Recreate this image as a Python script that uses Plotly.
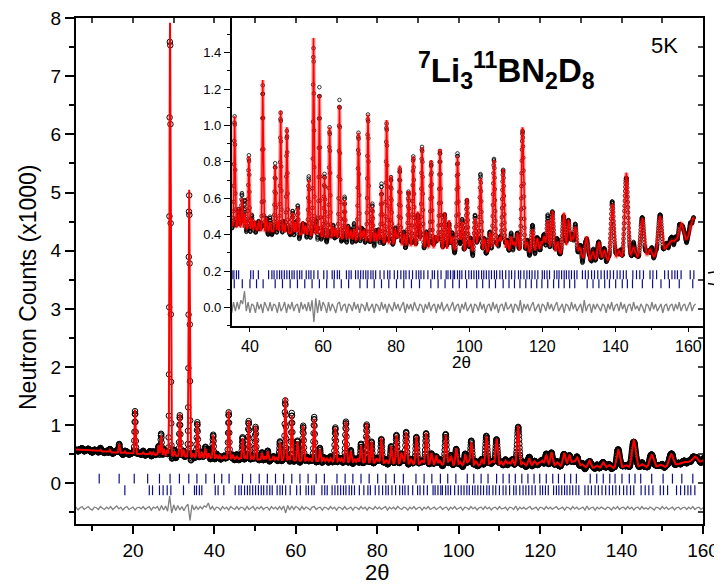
import numpy as np
import plotly.graph_objects as go

FONT = "Liberation Sans, Arial, sans-serif"

# ---------------- data (counts in units of 1000) ----------------
# background level
bg_x = [6, 10, 15, 20, 25, 30, 35, 40, 50, 60, 70, 80, 90, 100, 110, 120, 125,
        130, 135, 140, 145, 150, 155, 158, 160, 162]
bg_y = [0.58, 0.56, 0.53, 0.51, 0.49, 0.47, 0.45, 0.43, 0.41, 0.39, 0.37, 0.35,
        0.33, 0.31, 0.30, 0.30, 0.29, 0.27, 0.25, 0.26, 0.27, 0.27, 0.29, 0.33,
        0.38, 0.42]

# instrumental peak width (FWHM, degrees) vs 2theta
res_x = [10, 40, 60, 80, 100, 120, 140, 160]
res_fwhm = [0.30, 0.32, 0.35, 0.40, 0.50, 0.68, 0.95, 1.45]

# main Bragg peaks: position and top value
peak_pos = [16.6, 20.5, 26.3, 26.9, 29.1, 31.5, 33.8, 35.8, 37.8, 39.7, 43.5,
            46.9, 48.4, 50.1, 51.7, 53.1, 56.1, 57.4, 59.0, 60.4, 61.8, 64.5,
            65.9, 69.7, 72.3, 73.5, 76.0, 77.4, 78.6, 81.0, 83.4, 84.7, 85.9,
            87.1, 89.6, 92.0, 93.3, 94.5, 96.8, 98.1, 99.4, 101.6, 103.1, 105.7,
            106.8, 109.3, 113.2, 114.6, 117.3, 121.5, 122.8, 125.9, 127.2, 129.1,
            132.1, 135.5, 139.2, 143.0, 147.4, 152.2, 155.2, 158.0, 161.2]
peak_top = [0.68, 1.27, 0.65, 0.82, 7.92, 1.20, 5.05, 1.05, 0.60, 0.83, 1.25,
            0.78, 1.08, 0.99, 0.52, 0.55, 0.70, 1.48, 1.17, 0.72, 0.99, 1.11,
            0.59, 0.96, 1.06, 0.55, 0.65, 1.03, 0.72, 0.78, 0.64, 0.83, 0.52,
            0.88, 0.81, 0.87, 0.52, 0.48, 0.83, 0.47, 0.60, 0.49, 0.71, 0.41,
            0.81, 0.76, 0.41, 0.99, 0.43, 0.48, 0.53, 0.52, 0.48, 0.44,
            0.39, 0.36, 0.57, 0.74, 0.49, 0.50, 0.36, 0.46, 0.49]

# weak reflections (height above background)
minor_pos = [12.0, 14.3, 18.0, 22.5, 24.2, 25.0, 27.6, 28.4, 30.2, 32.4, 34.8,
             36.9, 38.6, 40.5, 41.3, 42.4, 44.5, 45.5, 47.6, 49.2, 52.4, 54.5,
             55.2, 58.2, 62.8, 63.5, 66.8, 67.6, 68.5, 70.6, 71.2, 74.4, 75.2,
             79.8, 80.3, 82.2, 86.3, 88.3, 90.8, 91.2, 95.3, 97.5, 100.3, 102.4,
             104.2, 107.8, 108.4, 110.4, 111.5, 112.3, 115.8, 118.6, 119.7,
             120.5, 124.2, 128.2, 130.3, 133.9, 137.0, 141.0, 145.0, 149.5,
             154.0, 156.5]
minor_amp = [0.03, 0.04, 0.03, 0.03, 0.05, 0.04, 0.12, 0.10, 0.08, 0.12, 0.06,
             0.10, 0.08, 0.06, 0.05, 0.05, 0.07, 0.05, 0.06, 0.05, 0.06, 0.07,
             0.05, 0.06, 0.06, 0.05, 0.07, 0.05, 0.06, 0.05, 0.06, 0.05, 0.07,
             0.08, 0.05, 0.06, 0.07, 0.08, 0.06, 0.05, 0.07, 0.06, 0.06, 0.08,
             0.07, 0.06, 0.08, 0.07, 0.09, 0.06, 0.06, 0.08, 0.06,
             0.09, 0.07, 0.10, 0.06, 0.05, 0.06, 0.05, 0.06, 0.05,
             0.04, 0.05]

# reflection markers of the two phases
phase1_ticks = [11.7, 16.6, 20.3, 23.6, 26.5, 29.1, 31.4, 33.7, 35.7, 37.9, 40.0,
                41.8, 43.6, 46.9, 48.9, 51.0, 53.0, 55.0, 57.0, 59.0, 61.0, 63.0,
                65.0, 67.0, 70.1, 72.1, 74.0, 76.0, 78.0, 80.1, 82.1, 84.2, 86.4,
                89.5, 91.5, 93.4, 95.5, 97.3, 99.3, 102.1, 103.7, 105.5, 107.2,
                109.3, 110.9, 112.4, 113.9, 115.5, 117.0, 118.5, 119.9, 121.5,
                123.1, 124.5, 126.0, 127.5, 128.9, 132.3, 133.9, 135.5, 137.1,
                138.4, 140.1, 141.9, 143.3, 144.7, 147.4, 150.2, 152.5, 154.8,
                157.5, 161.2]
phase2_ticks = [18.0, 24.0, 24.8, 26.5, 27.4, 28.4, 29.3, 32.4, 35.1, 35.6, 36.3,
                36.9, 40.2, 40.9, 42.3, 45.1, 46.0, 46.6, 47.4, 48.1, 48.7, 49.4,
                50.1, 50.8, 51.5, 52.1, 52.9, 53.6, 54.2, 55.4, 56.1, 56.7, 57.5,
                58.6, 60.2, 61.1, 62.5, 63.1, 63.9, 64.5, 66.4, 67.1, 67.7, 68.9,
                69.6, 70.3, 71.0, 71.7, 72.3, 73.1, 73.7, 74.4, 75.6, 76.7, 77.7,
                78.3, 79.5, 80.4, 81.3, 82.1, 82.7, 83.6, 84.5, 85.5, 86.2, 86.8,
                87.6, 88.7, 89.9, 90.5, 91.4, 92.3, 93.7, 94.2, 94.9, 95.6, 96.0,
                96.8, 97.4, 98.0, 99.0, 99.9, 100.6, 101.3, 102.0, 102.6, 103.4,
                104.0, 104.7, 105.4, 106.1, 106.9, 107.5, 108.4, 109.1, 110.0,
                110.9, 111.6, 112.5, 113.5, 114.1, 115.0, 115.8, 116.5, 117.2,
                118.0, 118.8, 120.0, 120.6, 121.3, 122.0, 123.3, 124.0, 124.6,
                125.3, 126.0, 126.6, 127.3, 128.0, 128.8, 129.5, 131.0, 131.8,
                132.6, 133.5, 134.3, 135.2, 136.1, 137.0, 137.8, 138.6, 139.5,
                140.5, 141.3, 142.2, 143.0, 144.8, 145.8, 146.7, 147.7, 149.5,
                150.3, 151.3, 153.5, 154.5, 155.5, 156.3, 157.0, 158.0, 160.5,
                161.5]

# difference curve (obs - calc), every 0.5 degree from 6 to 162
diff_vals = [
    0.02, -0.03, 0.01, 0.03, -0.02, 0.00, 0.03, -0.01, -0.03, 0.02, 0.01, -0.02, 0.03, 0.00, -0.02, 0.02, -0.01, 0.03, -0.02, 0.01,
    0.04, -0.01, 0.02, -0.03, 0.01, 0.03, -0.02, 0.00, 0.02, -0.03, 0.01, 0.02, -0.01, 0.03, -0.02, 0.01, 0.03, -0.03, 0.02, 0.00,
    0.03, -0.04, 0.05, -0.03, 0.04, -0.05, 0.21, -0.08, 0.06, -0.04, 0.05, -0.03, 0.03, -0.04, 0.03, 0.07, -0.21, 0.06, -0.03, 0.03,
    -0.02, 0.03, -0.01, 0.04, 0.02, 0.09, -0.02, 0.03, -0.03, 0.02, 0.01, -0.03, 0.03, -0.01, 0.02, -0.03, 0.03, 0.00, -0.02, 0.03,
    -0.02, 0.02, 0.01, -0.03, 0.03, -0.02, 0.00, 0.03, -0.03, 0.02, -0.01, 0.03, -0.02, 0.01, 0.02, -0.03, 0.03, -0.01, 0.02, -0.02,
    0.03, -0.02, 0.04, -0.08, 0.05, -0.03, 0.04, -0.02, 0.03, 0.01, -0.03, 0.03, -0.02, 0.02, 0.00, -0.03, 0.02, 0.03, -0.02, 0.01,
    0.02, -0.03, 0.02, 0.01, -0.02, 0.03, -0.01, 0.02, -0.03, 0.02, 0.01, -0.02, 0.03, -0.02, 0.00, 0.02, -0.03, 0.02, 0.01, -0.02,
    0.03, -0.01, 0.02, -0.03, 0.02, 0.00, -0.02, 0.03, -0.01, 0.02, -0.02, 0.01, 0.03, -0.03, 0.02, -0.01, 0.02, -0.02, 0.03, 0.00,
    -0.02, 0.02, 0.01, -0.03, 0.02, -0.01, 0.03, -0.02, 0.01, 0.02, -0.03, 0.02, -0.01, 0.03, -0.02, 0.00, 0.02, -0.02, 0.01, 0.03,
    -0.02, 0.01, 0.02, -0.03, 0.02, -0.01, 0.03, -0.02, 0.00, 0.02, -0.03, 0.02, 0.01, -0.02, 0.03, -0.01, 0.02, -0.03, 0.01, 0.02,
    -0.02, 0.03, -0.01, 0.02, -0.03, 0.01, 0.02, -0.02, 0.03, -0.01, 0.00, 0.02, -0.03, 0.02, 0.01, -0.02, 0.04, -0.03, 0.02, -0.01,
    0.02, -0.02, 0.01, 0.03, -0.02, 0.00, 0.02, -0.03, 0.02, 0.01, -0.02, 0.03, -0.01, 0.02, -0.02, 0.01, 0.03, -0.02, 0.00, 0.02,
    -0.03, 0.02, 0.01, -0.02, 0.03, -0.01, 0.02, -0.02, 0.00, 0.02, -0.03, 0.04, -0.02, 0.01, 0.02, -0.03, 0.02, -0.01, 0.02, 0.00,
    -0.02, 0.02, 0.01, -0.03, 0.02, -0.01, 0.03, -0.02, 0.01, 0.02, -0.02, 0.03, -0.01, 0.02, -0.03, 0.01, 0.02, -0.02, 0.03, -0.01,
    0.01, -0.02, 0.02, 0.00, -0.03, 0.02, 0.01, -0.02, 0.03, -0.01, 0.02, -0.02, 0.00, 0.02, -0.03, 0.01, 0.02, -0.02, 0.01, 0.02,
    -0.02, 0.02, -0.01, 0.03, -0.02, 0.01, 0.02, -0.02, 0.01, 0.03, -0.02, 0.01, 0.02]
diff_x = np.linspace(6.0, 162.0, len(diff_vals))

# vertical placement of the reflection rows and difference curves
main_row1, main_row2, main_diff0 = 0.08, -0.12, -0.43
ins_row1, ins_row2, ins_diff0 = 0.18, 0.13, 0.0

# ---------------- profile computed from the peak list ----------------
def profile(x):
    y = np.interp(x, bg_x, bg_y)
    for p, t in zip(peak_pos, peak_top):
        a = t - np.interp(p, bg_x, bg_y)
        s = np.interp(p, res_x, res_fwhm) / 2.3548
        y = y + a * np.exp(-0.5 * ((x - p) / s) ** 2)
    for p, a in zip(minor_pos, minor_amp):
        s = np.interp(p, res_x, res_fwhm) / 2.3548
        y = y + a * np.exp(-0.5 * ((x - p) / s) ** 2)
    return y

x_calc = np.arange(6.0, 161.6, 0.02)
y_calc = profile(x_calc)
x_obs = np.arange(6.2, 161.5, 0.05)
y_obs = profile(x_obs) + np.interp(x_obs, diff_x, diff_vals)

ins_c = x_calc >= 35
ins_o = x_obs >= 35
ins_d = diff_x >= 35

NAVY = "#101085"
RED = "#ff0000"
GREY = "#808080"

fig = go.Figure()

# ---- main panel ----
fig.add_trace(go.Scatter(x=x_obs, y=y_obs, mode="markers", xaxis="x", yaxis="y",
                         marker=dict(symbol="circle-open", size=5.5, color="black",
                                     line=dict(width=1, color="black")),
                         hoverinfo="skip"))
fig.add_trace(go.Scatter(x=x_calc, y=y_calc, mode="lines", xaxis="x", yaxis="y",
                         line=dict(color=RED, width=2), hoverinfo="skip"))
fig.add_trace(go.Scatter(x=phase1_ticks, y=[main_row1] * len(phase1_ticks),
                         mode="markers", xaxis="x", yaxis="y",
                         marker=dict(symbol="line-ns", size=7,
                                     line=dict(width=1.2, color=NAVY)),
                         hoverinfo="skip"))
fig.add_trace(go.Scatter(x=phase2_ticks, y=[main_row2] * len(phase2_ticks),
                         mode="markers", xaxis="x", yaxis="y",
                         marker=dict(symbol="line-ns", size=7,
                                     line=dict(width=1.2, color=NAVY)),
                         hoverinfo="skip"))
fig.add_trace(go.Scatter(x=diff_x, y=np.array(diff_vals) + main_diff0, mode="lines",
                         xaxis="x", yaxis="y", line=dict(color=GREY, width=1.3),
                         hoverinfo="skip"))

# invisible trace carrying the inward top/right tick axes
fig.add_trace(go.Scatter(x=[6], y=[-0.7], mode="markers", xaxis="x3", yaxis="y3",
                         marker=dict(opacity=0), hoverinfo="skip"))

# ---- inset ----
fig.add_trace(go.Scatter(x=x_obs[ins_o], y=y_obs[ins_o], mode="markers",
                         xaxis="x2", yaxis="y2",
                         marker=dict(symbol="circle-open", size=3.6, color="black",
                                     line=dict(width=0.8, color="black")),
                         hoverinfo="skip"))
fig.add_trace(go.Scatter(x=x_calc[ins_c], y=y_calc[ins_c], mode="lines",
                         xaxis="x2", yaxis="y2",
                         line=dict(color="rgba(255,0,0,0.35)", width=4),
                         hoverinfo="skip"))
fig.add_trace(go.Scatter(x=x_calc[ins_c], y=y_calc[ins_c], mode="lines",
                         xaxis="x2", yaxis="y2",
                         line=dict(color=RED, width=1.5), hoverinfo="skip"))
fig.add_trace(go.Scatter(x=phase2_ticks, y=[ins_row1] * len(phase2_ticks),
                         mode="markers", xaxis="x2", yaxis="y2",
                         marker=dict(symbol="line-ns", size=6.5,
                                     line=dict(width=1.2, color=NAVY)),
                         hoverinfo="skip"))
fig.add_trace(go.Scatter(x=phase1_ticks, y=[ins_row2] * len(phase1_ticks),
                         mode="markers", xaxis="x2", yaxis="y2",
                         marker=dict(symbol="line-ns", size=6.5,
                                     line=dict(width=1.2, color=NAVY)),
                         hoverinfo="skip"))
fig.add_trace(go.Scatter(x=diff_x[ins_d], y=np.array(diff_vals)[ins_d] + ins_diff0,
                         mode="lines", xaxis="x2", yaxis="y2",
                         line=dict(color=GREY, width=1.3), hoverinfo="skip"))

# page has an 8px body margin: figure is placed at (8, 8) in the window
OFF = 8
W, H = 714, 577
L, R, T, B = 76 - OFF, 703 - OFF, 18 - OFF, 524 - OFF
IL, IB = 231.7 - OFF, 325.7 - OFF


def px(x):
    return (x - OFF) / W


def py(y):
    return 1 - (y - OFF) / H


ax_common = dict(showgrid=False, zeroline=False, showline=True, linecolor="black",
                 color="black", automargin=False, ticklabeloverflow="allow")

fig.update_layout(
    width=W, height=H, margin=dict(l=0, r=0, t=0, b=0),
    paper_bgcolor="white", plot_bgcolor="rgba(0,0,0,0)", showlegend=False,
    font=dict(family=FONT, color="black"),
    xaxis=dict(domain=[L / W, R / W], range=[6, 160.001], anchor="y", mirror=True,
               linewidth=2, ticks="outside", ticklen=8, tickwidth=1.5,
               tick0=0, dtick=20, tickfont=dict(size=19),
               minor=dict(tick0=0, dtick=10, ticks="outside", ticklen=5, tickwidth=1.5),
               **ax_common),
    yaxis=dict(domain=[1 - B / H, 1 - T / H], range=[-0.7, 8.002], anchor="x", mirror=True,
               linewidth=2, ticks="outside", ticklen=9, tickwidth=1.5,
               tick0=0, dtick=1, tickfont=dict(size=19),
               minor=dict(tick0=0, dtick=0.5, ticks="outside", ticklen=5, tickwidth=1.5),
               **ax_common),
    xaxis3=dict(overlaying="x", side="top", anchor="y", range=[6, 160.001],
                ticks="inside", ticklen=5, tickwidth=1.5, tick0=0, dtick=10,
                showticklabels=False, showgrid=False, zeroline=False, showline=False),
    yaxis3=dict(overlaying="y", side="right", anchor="x", range=[-0.7, 8.002],
                ticks="inside", ticklen=5, tickwidth=1.5, tick0=0, dtick=0.5,
                showticklabels=False, showgrid=False, zeroline=False, showline=False),
    xaxis2=dict(domain=[IL / W, R / W], range=[35, 164], anchor="y2", mirror=True,
                linewidth=1.5, ticks="outside", ticklen=5, tickwidth=1.2,
                tick0=0, dtick=20, tickfont=dict(size=16),
                minor=dict(tick0=0, dtick=10, ticks="outside", ticklen=3, tickwidth=1.2),
                **ax_common),
    yaxis2=dict(domain=[1 - IB / H, 1 - T / H], range=[-0.1, 1.59], anchor="x2",
                mirror=True, linewidth=1.5, ticks="outside", ticklen=6, tickwidth=1.2,
                tick0=0, dtick=0.2, tickformat=".1f", tickfont=dict(size=13),
                minor=dict(tick0=0, dtick=0.1, ticks="outside", ticklen=3, tickwidth=1.2),
                **ax_common),
    annotations=[
        dict(text="Neutron Counts (x1000)", x=px(28), y=py(288), xref="paper",
             yref="paper", textangle=-90, showarrow=False, font=dict(size=23),
             xanchor="center", yanchor="middle"),
        dict(text="2θ", x=px(377), y=py(572), xref="paper", yref="paper",
             showarrow=False, font=dict(size=22), xanchor="center", yanchor="middle"),
        dict(text="2θ", x=px(461), y=py(362), xref="paper", yref="paper",
             showarrow=False, font=dict(size=17), xanchor="center", yanchor="middle"),
        dict(text="<b><sup>7</sup>Li<sub>3</sub><sup>11</sup>BN<sub>2</sub>D<sub>8</sub></b>",
             x=px(507), y=py(71), xref="paper", yref="paper", showarrow=False,
             font=dict(size=33), xanchor="center", yanchor="middle"),
        dict(text="5K", x=px(664), y=py(45), xref="paper", yref="paper",
             showarrow=False, font=dict(size=22), xanchor="center", yanchor="middle"),
    ],
    shapes=[
        dict(type="line", xref="paper", yref="paper", x0=px(708), y0=py(273),
             x1=px(722), y1=py(270.5), line=dict(color="black", width=1.5)),
        dict(type="line", xref="paper", yref="paper", x0=px(708), y0=py(283.5),
             x1=px(722), y1=py(286), line=dict(color="black", width=1.5)),
    ],
)

fig.write_html("out.html")
